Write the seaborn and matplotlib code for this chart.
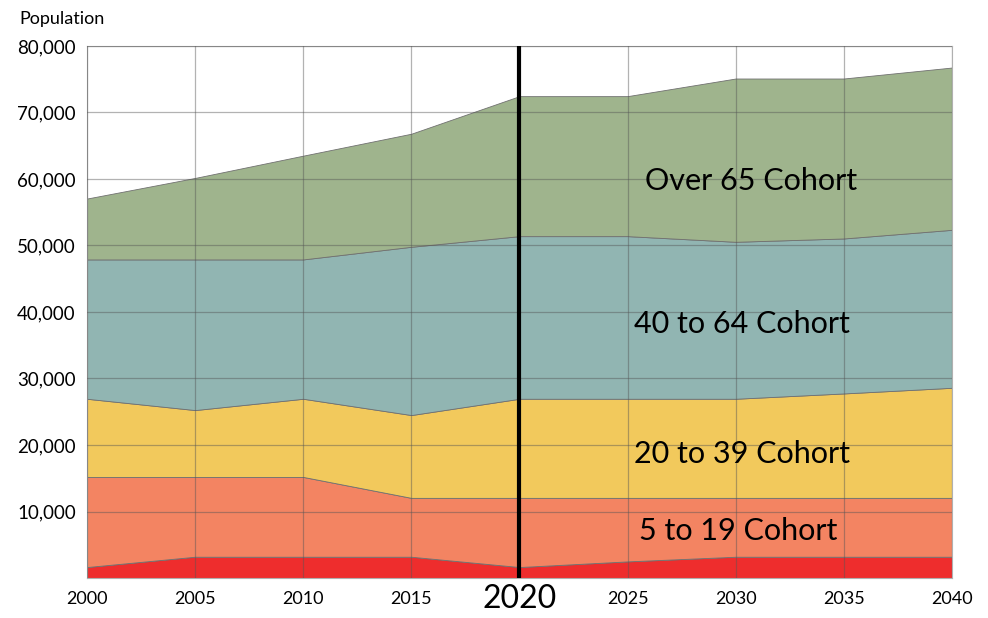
import matplotlib
matplotlib.use("Agg")
import matplotlib.pyplot as plt
import seaborn as sns
import numpy as np

# =========================
# DATA
# =========================
years = [2000, 2005, 2010, 2015, 2020, 2025, 2030, 2035, 2040]

under_5 = [1650, 3200, 3200, 3200, 1650, 2500, 3200, 3200, 3200]
age_5_19 = [13550, 12000, 12000, 8850, 10400, 9550, 8850, 8850, 8850]
age_20_39 = [11750, 10050, 11750, 12450, 14900, 14900, 14900, 15700, 16550]
age_40_64 = [20950, 22650, 20950, 25300, 24450, 24450, 23600, 23300, 23750]
over_65 = [9150, 12250, 15600, 17000, 21050, 21050, 24550, 24050, 24400]

cohort_labels = ["5 to 19 Cohort", "20 to 39 Cohort", "40 to 64 Cohort", "Over 65 Cohort"]
label_x = [2030.1, 2030.3, 2030.3, 2030.7]
label_y = [7050, 18700, 38200, 59700]

y_ticks = [10000, 20000, 30000, 40000, 50000, 60000, 70000, 80000]
colors = ["#ee2d2d", "#f38462", "#f2c95c", "#91b5b2", "#9fb48d"]

# =========================
# STYLE
# =========================
sns.set_theme(style="white")
plt.rcParams['font.family'] = ['Lato', 'DejaVu Sans']

fig = plt.figure(figsize=(9.88, 6.18), dpi=100)
ax = fig.add_axes([0.088, 0.0647, 0.8755, 0.861])

ax.stackplot(
    years,
    under_5, age_5_19, age_20_39, age_40_64, over_65,
    colors=colors,
    edgecolor="#707070",
    linewidth=0.6
)

# grid on top of the areas
ax.set_axisbelow(False)
ax.grid(True, color="#555555", alpha=0.45, linewidth=0.9)

ax.axvline(2020, color="black", linewidth=3, zorder=5)

ax.set_xlim(2000, 2040)
ax.set_ylim(0, 80000)
ax.set_xticks(years)
ax.set_xticklabels([str(y) for y in years], fontsize=13, color="black")
ax.set_yticks(y_ticks)
ax.set_yticklabels([f"{v:,}" for v in y_ticks], fontsize=13.5, color="black")
ax.tick_params(axis="y", length=0, pad=8)
ax.tick_params(axis="x", length=0, pad=9)

# the 2020 label is big and sits closer to the axis
tick_2020 = ax.xaxis.get_major_ticks()[years.index(2020)]
tick_2020.set_pad(4)
tick_2020.label1.set_fontsize(23)

for sp in ax.spines.values():
    sp.set_color("#b0b0b0")
    sp.set_linewidth(0.8)

for txt, xv, yv in zip(cohort_labels, label_x, label_y):
    ax.text(xv, yv, txt, fontsize=22, ha="center", va="center",
            color="black", zorder=6)

fig.text(0.02, 0.97, "Population", fontsize=13, ha="left", va="center", color="black")

fig.savefig("out.png", dpi=100)
